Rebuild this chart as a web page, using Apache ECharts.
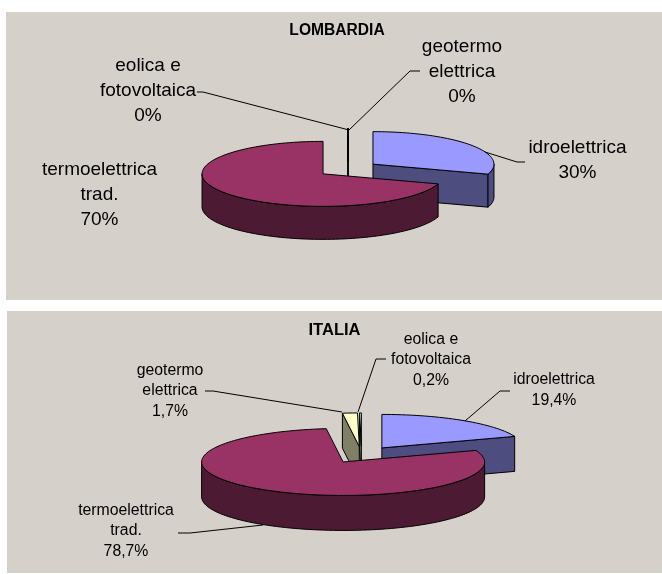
<!DOCTYPE html>
<html>
<head>
<meta charset="utf-8">
<title>Lombardia / Italia</title>
<script src="https://cdn.jsdelivr.net/npm/echarts@6/dist/echarts.min.js"></script>
<style>
  html, body { margin: 0; padding: 0; background: #fff; }
  #main { width: 662px; height: 574px; }
</style>
</head>
<body>
<div id="main"></div>
<script>
// slices, clockwise from 12 o'clock
var labelsLombardia = ['idroelettrica', 'termoelettrica\ntrad.', 'geotermo\nelettrica', 'eolica e\nfotovoltaica'];
var valuesLombardia = [30, 70, 0, 0];
var labelsItalia = ['idroelettrica', 'termoelettrica\ntrad.', 'geotermo\nelettrica', 'eolica e\nfotovoltaica'];
var valuesItalia = [19.4, 78.7, 1.7, 0.2];

var topColors = ['#9999ff', '#993366', '#ffffcc', '#ccffff'];
var sideColors = ['#4d4d80', '#4d1a33', '#808066', '#668080'];
var FONT = 'Liberation Sans, Arial, sans-serif';

// pie geometry and label placement
var pieLombardia = {
  cx: 348, cy: 169, rx: 121, ry: 32.5, depth: 33, explode: 0.255, fontSize: 19, lineHeight: 25,
  labels: [
    { x: 577.5, y: 160, line: [[485, 152], [517, 162], [525, 162]] },
    { x: 99.5, y: 195 },
    { x: 462, y: 72, line: [[420, 71], [410, 71], [349, 130]] },
    { x: 148, y: 91, line: [[197, 92], [203, 92], [349, 130]] }
  ]
};
var pieItalia = {
  cx: 361.6, cy: 454.8, rx: 141.5, ry: 33.5, depth: 35, explode: 0.25, fontSize: 15.8, lineHeight: 20.5,
  labels: [
    { x: 554, y: 390, line: [[465, 421], [500, 391], [510, 391]] },
    { x: 126, y: 531, line: [[263, 525], [190, 533], [178, 533]] },
    { x: 170, y: 391, line: [[205, 391], [213, 391], [342, 412]] },
    { x: 431, y: 360, line: [[386, 359], [376, 359], [358, 412]] }
  ]
};

function toRad(d) { return d * Math.PI / 180; }

function formatPct(v) {
  return String(v).replace('.', ',') + '%';
}

function makePie(name, values, labels, geo) {
  var total = values.reduce(function (a, b) { return a + b; }, 0);
  return {
    name: name,
    type: 'custom',
    coordinateSystem: 'none',
    silent: true,
    animation: false,
    data: values,
    renderItem: function (params, api) {
      var i = params.dataIndex;
      var v = api.value(0);
      var before = 0;
      for (var k = 0; k < i; k++) before += values[k];
      var a0 = before / total * 360;
      var a1 = (before + v) / total * 360;
      var mid = toRad((a0 + a1) / 2);
      // exploded apex
      var ox = geo.cx + geo.rx * geo.explode * Math.sin(mid);
      var oy = geo.cy - geo.ry * geo.explode * Math.cos(mid);
      function pt(a, drop) {
        return [ox + geo.rx * Math.sin(toRad(a)), oy - geo.ry * Math.cos(toRad(a)) + (drop || 0)];
      }
      var z = Math.round(v * 10);
      var edge = { stroke: '#000', lineWidth: 1, lineJoin: 'round' };
      var children = [];

      function wall(a) {
        children.push({
          type: 'polygon', z2: z,
          shape: { points: [[ox, oy], pt(a), pt(a, geo.depth), [ox, oy + geo.depth]] },
          style: Object.assign({ fill: sideColors[i] }, edge)
        });
      }
      if (a0 > 0 && (Math.sin(toRad(a0)) <= 1e-6)) wall(a0);
      if (Math.sin(toRad(a1)) > 1e-6) wall(a1);

      // curved front wall
      var from = Math.max(a0, 90), to = Math.min(a1, 270);
      if (to > from) {
        var upper = [], lower = [];
        for (var a = from; a < to; a += 2) {
          upper.push(pt(a));
          lower.unshift(pt(a, geo.depth));
        }
        upper.push(pt(to));
        lower.unshift(pt(to, geo.depth));
        children.push({
          type: 'polygon', z2: z,
          shape: { points: upper.concat(lower) },
          style: Object.assign({ fill: sideColors[i] }, edge)
        });
      }

      // top face
      var face = [[ox, oy]];
      for (var b = a0; b < a1; b += 2) face.push(pt(b));
      face.push(pt(a1));
      children.push({
        type: 'polygon', z2: z,
        shape: { points: face },
        style: Object.assign({ fill: topColors[i] }, edge)
      });

      // label and leader
      var lab = geo.labels[i];
      if (lab.line) {
        children.push({
          type: 'polyline', z2: 1000,
          shape: { points: lab.line },
          style: { stroke: '#000', lineWidth: 1, fill: null }
        });
      }
      children.push({
        type: 'text', z2: 1000,
        style: {
          x: lab.x, y: lab.y,
          text: labels[i] + '\n' + formatPct(v),
          align: 'center', verticalAlign: 'middle',
          font: geo.fontSize + 'px ' + FONT,
          lineHeight: geo.lineHeight,
          fill: '#000'
        }
      });
      return { type: 'group', children: children };
    }
  };
}

var option = {
  backgroundColor: '#fff',
  animation: false,
  graphic: [
    { type: 'rect', z: -10, silent: true, shape: { x: 6, y: 12, width: 656, height: 288 }, style: { fill: '#d6d0ca' } },
    { type: 'rect', z: -10, silent: true, shape: { x: 7, y: 311, width: 655, height: 262 }, style: { fill: '#d6d0ca' } },
    { type: 'text', silent: true, style: { x: 337, y: 31, text: 'LOMBARDIA', align: 'center', verticalAlign: 'middle', font: 'bold 15.6px ' + FONT, fill: '#000' } },
    { type: 'text', silent: true, style: { x: 334.5, y: 330, text: 'ITALIA', align: 'center', verticalAlign: 'middle', font: 'bold 16.5px ' + FONT, fill: '#000' } }
  ],
  series: [
    makePie('LOMBARDIA', valuesLombardia, labelsLombardia, pieLombardia),
    makePie('ITALIA', valuesItalia, labelsItalia, pieItalia)
  ]
};

var myChart = echarts.init(document.getElementById('main'), null, { renderer: 'canvas' });
myChart.setOption(option);
</script>
</body>
</html>
